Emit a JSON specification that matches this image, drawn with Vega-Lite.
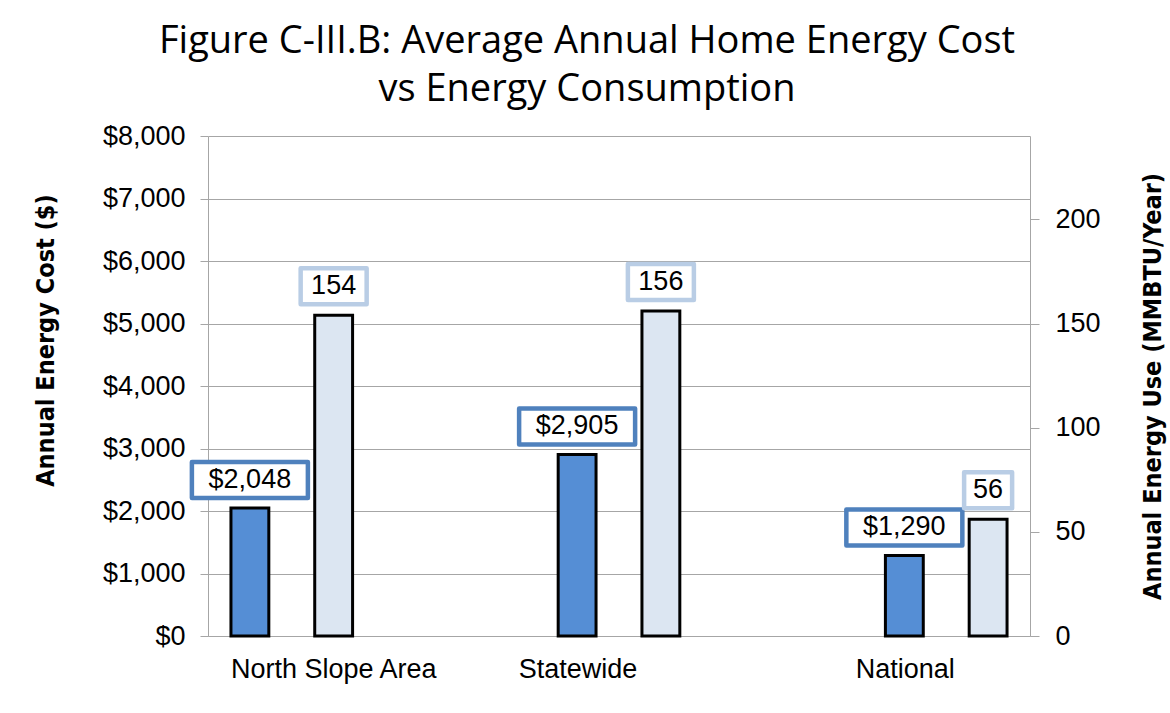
{
  "$schema": "https://vega.github.io/schema/vega-lite/v6.json",
  "width": 822,
  "height": 500,
  "padding": {"left": 33, "top": 23, "right": 5, "bottom": 5},
  "background": "white",
  "title": {
    "text": ["Figure C-III.B: Average Annual Home Energy Cost", "vs Energy Consumption"],
    "font": "Open Sans",
    "fontSize": 38,
    "fontWeight": "normal",
    "color": "black",
    "anchor": "middle",
    "frame": "group",
    "dx": -32,
    "lineHeight": 48,
    "offset": 13
  },
  "config": {
    "view": {"stroke": null},
    "axis": {
      "labelFont": "Liberation Sans",
      "labelFontSize": 27,
      "labelColor": "#000000",
      "labelLimit": 0,
      "titleFont": "Liberation Sans Narrow, DejaVu Sans Condensed, sans-serif",
      "titleFontSize": 25,
      "titleFontWeight": "bold",
      "titleColor": "#000000",
      "domainColor": "#A6A6A6",
      "tickColor": "#A6A6A6",
      "gridColor": "#A6A6A6"
    }
  },
  "data": {
    "values": [
      {"area": "North Slope Area", "series": "Cost", "value": 2048},
      {"area": "North Slope Area", "series": "Energy", "value": 154},
      {"area": "Statewide", "series": "Cost", "value": 2905},
      {"area": "Statewide", "series": "Energy", "value": 156},
      {"area": "National", "series": "Cost", "value": 1290},
      {"area": "National", "series": "Energy", "value": 56}
    ]
  },
  "encoding": {
    "x": {
      "field": "area",
      "type": "nominal",
      "sort": null,
      "scale": {"paddingInner": 0.488, "paddingOuter": 0},
      "axis": {
        "title": null,
        "labelAngle": 0,
        "ticks": false,
        "labelPadding": 20,
        "labelLimit": 0,
        "labelOffset": {"condition": {"test": "datum.value === 'North Slope Area'", "value": 42}, "value": -41}
      }
    },
    "xOffset": {
      "field": "series",
      "type": "nominal",
      "scale": {"domain": ["Cost", "Energy"], "paddingInner": 0.548, "paddingOuter": 0.274}
    }
  },
  "layer": [
    {
      "transform": [{"filter": "datum.series === 'Cost'"}],
      "encoding": {
        "y": {
          "field": "value",
          "type": "quantitative",
          "scale": {"domain": [0, 8000]},
          "axis": {
            "orient": "left",
            "title": "Annual Energy Cost ($)",
            "values": [0, 1000, 2000, 3000, 4000, 5000, 6000, 7000, 8000],
            "format": "$,.0f",
            "grid": true,
            "tickSize": 8,
            "labelPadding": 15,
            "titleY": 204,
            "titlePadding": 44
          }
        }
      },
      "layer": [
        {"mark": {"type": "bar", "fill": "#558ED5", "stroke": "black", "strokeWidth": 3}},
        {"mark": {"type": "point", "shape": "M-58,-18H58V18H-58Z", "size": 4, "filled": true, "fill": "white", "stroke": "#4F81BD", "strokeWidth": 4.5, "strokeJoin": "round", "opacity": 1, "yOffset": -28}},
        {
          "mark": {"type": "text", "font": "Liberation Sans", "fontSize": 27, "color": "black", "yOffset": -28, "baseline": "middle"},
          "encoding": {"text": {"field": "value", "type": "quantitative", "format": "$,.0f"}}
        }
      ]
    },
    {
      "transform": [{"filter": "datum.series === 'Energy'"}],
      "encoding": {
        "y": {
          "field": "value",
          "type": "quantitative",
          "scale": {"domain": [0, 240]},
          "axis": {
            "orient": "right",
            "title": "Annual Energy Use (MMBTU/Year)",
            "values": [0, 50, 100, 150, 200],
            "grid": false,
            "tickSize": 9,
            "labelPadding": 16,
            "titleAngle": 270,
            "titleBaseline": "top",
            "titlePadding": 40
          }
        }
      },
      "layer": [
        {"mark": {"type": "bar", "fill": "#DCE6F2", "stroke": "black", "strokeWidth": 3}},
        {
          "mark": {"type": "point", "size": 4, "filled": true, "fill": "white", "stroke": "#B9CDE5", "strokeWidth": 4.5, "strokeJoin": "round", "opacity": 1, "yOffset": -29},
          "encoding": {"shape": {"condition": {"test": "datum.value < 100", "value": "M-24,-18H24V18H-24Z"}, "value": "M-33,-18H33V18H-33Z"}}
        },
        {
          "mark": {"type": "text", "font": "Liberation Sans", "fontSize": 27, "color": "black", "yOffset": -29, "baseline": "middle"},
          "encoding": {"text": {"field": "value", "type": "quantitative", "format": ","}}
        }
      ]
    }
  ],
  "resolve": {"scale": {"y": "independent"}}
}
